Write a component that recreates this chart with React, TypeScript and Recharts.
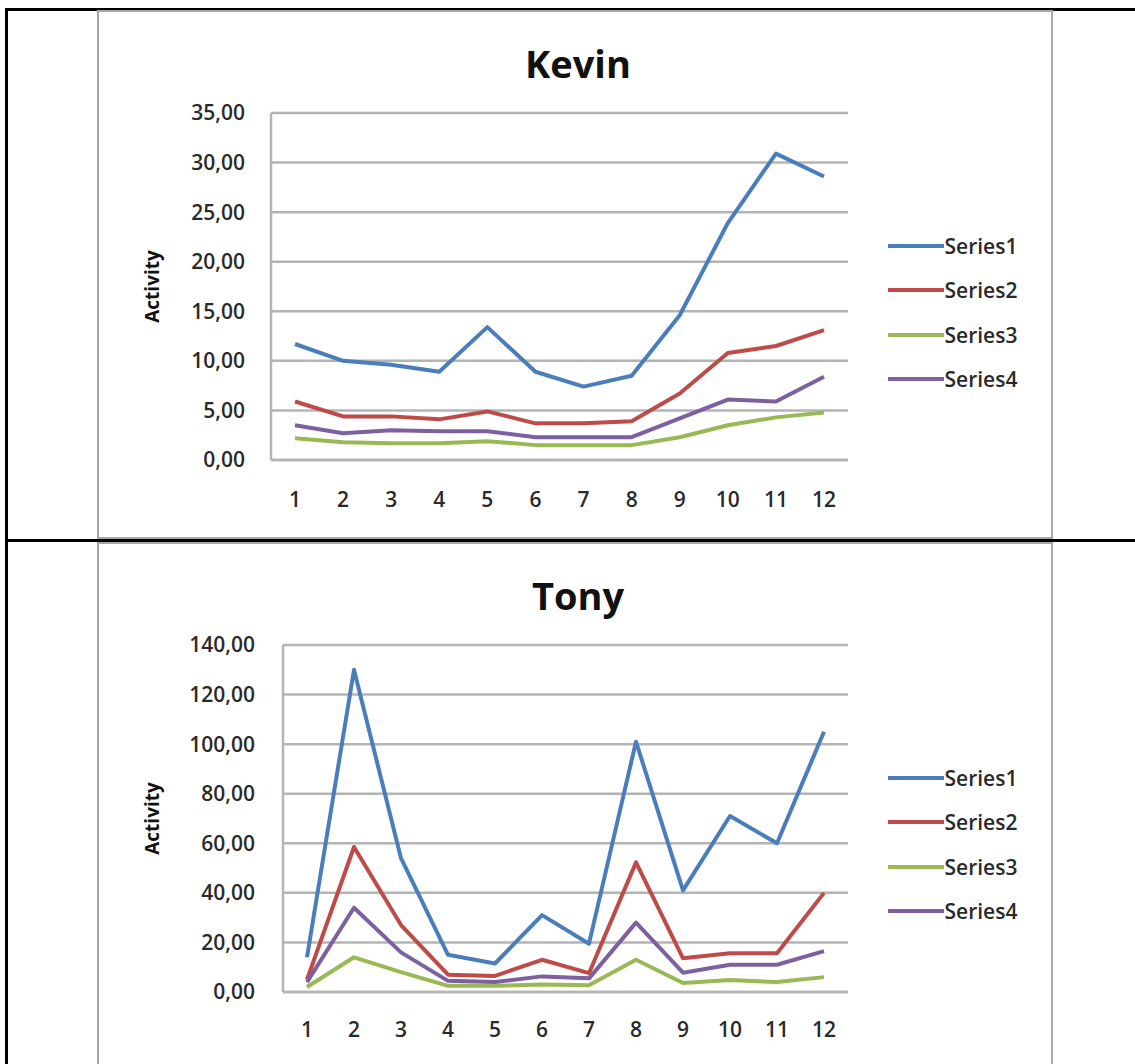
import React from 'react';
import { LineChart, Line, XAxis, YAxis, CartesianGrid, Legend } from 'recharts';

// Month index along the horizontal axis
const months = [1, 2, 3, 4, 5, 6, 7, 8, 9, 10, 11, 12];

// Kevin
const kevinSeries1 = [11.7, 10.0, 9.6, 8.9, 13.4, 8.9, 7.4, 8.5, 14.6, 23.9, 30.9, 28.6];
const kevinSeries2 = [5.9, 4.4, 4.4, 4.1, 4.9, 3.7, 3.7, 3.9, 6.7, 10.8, 11.5, 13.1];
const kevinSeries3 = [2.2, 1.8, 1.7, 1.7, 1.9, 1.5, 1.5, 1.5, 2.3, 3.5, 4.3, 4.8];
const kevinSeries4 = [3.5, 2.7, 3.0, 2.9, 2.9, 2.3, 2.3, 2.3, 4.2, 6.1, 5.9, 8.4];
const kevinTicks = [0, 5, 10, 15, 20, 25, 30, 35];

// Tony
const tonySeries1 = [14, 130, 54, 15, 11.5, 31, 19.5, 101, 41, 71, 60, 105];
const tonySeries2 = [5, 58.5, 27, 7, 6.5, 13, 7.6, 52.3, 13.6, 15.6, 15.6, 40];
const tonySeries3 = [2, 14, 8, 2.5, 2.5, 3, 2.7, 13, 3.6, 4.8, 4, 6];
const tonySeries4 = [4, 34, 16, 4.5, 4, 6.3, 5.5, 28, 7.8, 11, 11, 16.5];
const tonyTicks = [0, 20, 40, 60, 80, 100, 120, 140];

const seriesNames = ['Series1', 'Series2', 'Series3', 'Series4'];
const seriesColors = ['#4a7ebb', '#be4b48', '#98b954', '#7d60a0'];

const FONT = '"Open Sans", "DejaVu Sans", sans-serif';

function buildRows(series: number[][]) {
  return months.map((m, i) => {
    const row: Record<string, number> = { month: m };
    seriesNames.forEach((name, s) => {
      row[name] = series[s][i];
    });
    return row;
  });
}

const fmt = (v: number) => v.toFixed(2).replace('.', ',');

const renderLegend = (props: any) => {
  const { payload } = props;
  return (
    <div style={{ display: 'flex', flexDirection: 'column' }}>
      {(payload || []).map((p: any) => (
        <div key={p.value} style={{ height: 44.5, display: 'flex', alignItems: 'center' }}>
          <svg width={56} height={6} style={{ display: 'block' }}>
            <line x1={0} x2={56} y1={3} y2={3} stroke={p.color} strokeWidth={4} />
          </svg>
          <span style={{ marginLeft: 1, fontSize: 21, fontWeight: 600, fontFamily: FONT, color: '#2a2a2a' }}>
            {p.value}
          </span>
        </div>
      ))}
    </div>
  );
};

type PanelProps = {
  title: string;
  top: number;
  height: number;
  series: number[][];
  ticks: number[];
  yAxisWidth: number;
  tickGap: number;
  xTickGap: number;
};

const tickStyle = { fontSize: 21, fontWeight: 600, fill: '#2a2a2a', fontFamily: FONT };

function Panel({ title, top, height, series, ticks, yAxisWidth, tickGap, xTickGap }: PanelProps) {
  const data = buildRows(series);
  return (
    <div
      style={{
        position: 'absolute',
        left: 97,
        top,
        width: 956,
        height,
        boxSizing: 'border-box',
        border: '2.5px solid #a8a8a8',
        background: '#fff',
      }}
    >
      <div
        style={{
          position: 'absolute',
          left: 0,
          top: 27,
          width: 958,
          textAlign: 'center',
          fontFamily: FONT,
          fontWeight: 700,
          fontSize: 38,
          color: '#111',
          lineHeight: '48px',
        }}
      >
        {title}
      </div>
      <div style={{ position: 'absolute', left: -1.5, top: -2.5 }}>
        <LineChart
          width={954}
          height={528}
          data={data}
          margin={{ top: 103, right: 204, left: 0, bottom: 38 }}
        >
          <CartesianGrid vertical={false} stroke="#b4b4b4" strokeWidth={2.5} />
          <XAxis
            dataKey="month"
            type="category"
            padding={{ left: 24, right: 24 }}
            height={40}
            tickLine={false}
            tickSize={0}
            tickMargin={xTickGap}
            axisLine={{ stroke: '#b4b4b4', strokeWidth: 2.5 }}
            tick={tickStyle}
            interval={0}
          />
          <YAxis
            width={yAxisWidth}
            domain={[ticks[0], ticks[ticks.length - 1]]}
            ticks={ticks}
            tickFormatter={fmt}
            tickLine={false}
            tickSize={0}
            tickMargin={tickGap}
            axisLine={{ stroke: '#b4b4b4', strokeWidth: 2.5 }}
            tick={tickStyle}
            label={{
              content: (p: any) => {
                const vb = p.viewBox || {};
                const cx = 54;
                const cy = (vb.y || 0) + (vb.height || 0) / 2;
                return (
                  <text
                    x={cx}
                    y={cy}
                    transform={`rotate(-90, ${cx}, ${cy})`}
                    textAnchor="middle"
                    dominantBaseline="central"
                    fontFamily={FONT}
                    fontWeight={700}
                    fontSize={19}
                    fill="#111"
                  >
                    Activity
                  </text>
                );
              },
            }}
          />
          <Legend
            layout="vertical"
            align="center"
            verticalAlign="middle"
            content={renderLegend}
            wrapperStyle={{ left: 790, top: 214, width: 160 }}
          />
          {seriesNames.map((name, i) => (
            <Line
              key={name}
              dataKey={name}
              name={name}
              stroke={seriesColors[i]}
              strokeWidth={4}
              dot={false}
              activeDot={false}
              strokeLinejoin="round"
              isAnimationActive={false}
            />
          ))}
        </LineChart>
      </div>
    </div>
  );
}

export default function App() {
  return (
    <div
      style={{
        position: 'absolute',
        left: 0,
        top: 0,
        width: 1135,
        height: 1064,
        overflow: 'hidden',
        background: '#fff',
      }}
    >
      {/* table rules */}
      <div style={{ position: 'absolute', left: 5, top: 8, width: 1130, height: 2.5, background: '#000' }} />
      <div style={{ position: 'absolute', left: 5, top: 539, width: 1130, height: 2.5, background: '#000' }} />
      <div style={{ position: 'absolute', left: 5, top: 8, width: 2.5, height: 1056, background: '#000' }} />

      <Panel
        title="Kevin"
        top={10}
        height={529}
        series={[kevinSeries1, kevinSeries2, kevinSeries3, kevinSeries4]}
        ticks={kevinTicks}
        yAxisWidth={173}
        tickGap={26}
        xTickGap={32}
      />
      <Panel
        title="Tony"
        top={542}
        height={540}
        series={[tonySeries1, tonySeries2, tonySeries3, tonySeries4]}
        ticks={tonyTicks}
        yAxisWidth={185}
        tickGap={28}
        xTickGap={30}
      />
    </div>
  );
}
